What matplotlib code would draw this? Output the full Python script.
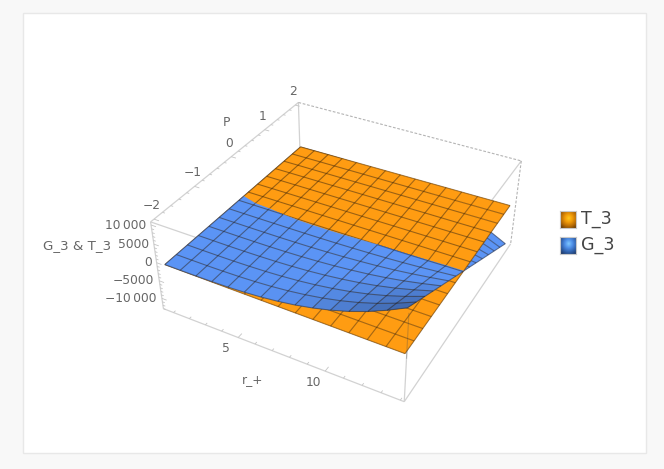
import numpy as np
import matplotlib
matplotlib.use('Agg')
import matplotlib.pyplot as plt
from matplotlib.colors import LinearSegmentedColormap, to_rgb
from matplotlib.patches import Rectangle
from mpl_toolkits.mplot3d import proj3d
from mpl_toolkits.mplot3d.art3d import Poly3DCollection, Line3DCollection

r_vals = [0.63, 1.585, 2.54, 3.495, 4.45, 5.405, 6.36, 7.315, 8.27, 9.225, 10.18, 11.135, 12.09, 13.045, 14.0]
p_vals = [-2, -1.714, -1.429, -1.143, -0.857, -0.571, -0.286, 0, 0.286, 0.571, 0.857, 1.143, 1.429, 1.714, 2]
T_3 = [[-860, -890, -920, -950, -990, -1020, -1050, -1080, -1110, -1140, -1170, -1210, -1240, -1270, -1300],
       [-880, -910, -940, -960, -990, -1020, -1050, -1080, -1110, -1140, -1160, -1190, -1220, -1250, -1280],
       [-900, -930, -950, -980, -1000, -1030, -1050, -1080, -1100, -1130, -1150, -1180, -1200, -1230, -1250],
       [-920, -940, -970, -990, -1010, -1030, -1050, -1080, -1100, -1120, -1140, -1160, -1190, -1210, -1230],
       [-940, -960, -980, -1000, -1020, -1040, -1060, -1070, -1090, -1110, -1130, -1150, -1170, -1190, -1210],
       [-960, -980, -990, -1010, -1030, -1040, -1060, -1070, -1090, -1100, -1120, -1140, -1150, -1170, -1180],
       [-980, -1000, -1010, -1020, -1030, -1050, -1060, -1070, -1080, -1100, -1110, -1120, -1130, -1150, -1160],
       [-1000, -1010, -1020, -1030, -1040, -1050, -1060, -1070, -1080, -1090, -1100, -1110, -1120, -1130, -1140],
       [-1030, -1030, -1040, -1040, -1050, -1060, -1060, -1070, -1080, -1080, -1090, -1090, -1100, -1110, -1110],
       [-1050, -1050, -1050, -1060, -1060, -1060, -1060, -1070, -1070, -1070, -1080, -1080, -1080, -1090, -1090],
       [-1070, -1070, -1070, -1070, -1070, -1070, -1070, -1070, -1070, -1070, -1070, -1070, -1070, -1070, -1070],
       [-1090, -1080, -1080, -1080, -1070, -1070, -1070, -1060, -1060, -1060, -1050, -1050, -1050, -1040, -1040],
       [-1110, -1100, -1100, -1090, -1080, -1080, -1070, -1060, -1060, -1050, -1040, -1040, -1030, -1020, -1020],
       [-1130, -1120, -1110, -1100, -1090, -1080, -1070, -1060, -1050, -1040, -1030, -1020, -1010, -1000, -990],
       [-1150, -1140, -1120, -1110, -1100, -1090, -1070, -1060, -1050, -1030, -1020, -1010, -1000, -980, -970]]
G_3 = [[-830, -860, -860, -820, -715, -500, -160, 340, 1010, 1900, 3000, 4360, 6030, 8020, 10300],
       [-850, -880, -890, -850, -755, -575, -290, 130, 710, 1460, 2410, 3590, 5020, 6730, 8680],
       [-880, -910, -910, -890, -800, -660, -420, -70, 410, 1040, 1830, 2810, 4010, 5440, 7080],
       [-900, -920, -940, -920, -850, -740, -550, -280, 110, 620, 1240, 2030, 3000, 4160, 5470],
       [-925, -945, -954, -945, -904, -822, -686, -472, -187, 192, 656, 1252, 1986, 2869, 3857],
       [-949, -970, -972, -973, -953, -897, -815, -677, -492, -232, 71, 470, 977, 1582, 2255],
       [-974, -995, -1001, -1002, -993, -982, -944, -882, -787, -666, -514, -302, -32, 295, 643],
       [-998, -1009, -1019, -1030, -1043, -1058, -1073, -1087, -1092, -1090, -1099, -1084, -1051, -992, -969],
       [-1032, -1034, -1047, -1058, -1093, -1143, -1202, -1292, -1397, -1514, -1684, -1856, -2060, -2279, -2571],
       [-1057, -1058, -1066, -1097, -1142, -1219, -1331, -1497, -1692, -1938, -2269, -2638, -3069, -3566, -4183],
       [-1081, -1083, -1094, -1125, -1192, -1304, -1470, -1702, -1997, -2372, -2854, -3420, -4088, -4853, -5795],
       [-1105, -1098, -1112, -1153, -1232, -1379, -1599, -1897, -2292, -2796, -3429, -4192, -5097, -6130, -7397],
       [-1130, -1122, -1141, -1182, -1281, -1465, -1728, -2102, -2597, -3220, -4014, -4974, -6106, -7417, -9009],
       [-1154, -1147, -1159, -1210, -1331, -1540, -1857, -2307, -2892, -3644, -4599, -5746, -7115, -8704, -10611],
       [-1178, -1171, -1177, -1238, -1381, -1626, -1986, -2512, -3197, -4068, -5184, -6528, -8134, -9991, -12223]]
r_lim = (0.35, 14.2)
p_lim = (-2.08, 2.11)
z_lim = (-13000, 10800)
r_major = [5, 10]
p_major = [-2, -1, 0, 1, 2]
z_major = [10000, 5000, 0, -5000, -10000]
z_names = ['10\u2009000', '5000', '0', '\u22125000', '\u221210\u2009000']
legend_names = ['T_3', 'G_3']


def shade(color, f):
    return tuple(min(1, c * f) for c in to_rgb(color))


def clip_poly(pts, d):
    # keep the part of a cell where d >= 0
    out = []
    for k in range(len(pts)):
        a, b = np.array(pts[k]), np.array(pts[(k + 1) % len(pts)])
        da, db = d[k], d[(k + 1) % len(pts)]
        if da >= 0:
            out.append(a)
        if (da >= 0) != (db >= 0):
            out.append(a + (b - a) * da / (da - db))
    return out


def layer(Z, D, color, zorder):
    faces, cols, segs = [], [], []
    rr = r_lim[1] - r_lim[0]
    pr = p_lim[1] - p_lim[0]
    zr = z_lim[1] - z_lim[0]
    for j in range(len(p) - 1):
        for i in range(len(r) - 1):
            pts = [(r[i], p[j], Z[j, i]), (r[i + 1], p[j], Z[j, i + 1]),
                   (r[i + 1], p[j + 1], Z[j + 1, i + 1]), (r[i], p[j + 1], Z[j + 1, i])]
            d = [D[j, i], D[j, i + 1], D[j + 1, i + 1], D[j + 1, i]]
            poly = clip_poly(pts, d)
            if len(poly) < 3:
                continue
            sx = (Z[j, i + 1] + Z[j + 1, i + 1] - Z[j, i] - Z[j + 1, i]) / 2 / (r[i + 1] - r[i]) * rr / zr * 104 / 262
            sy = (Z[j + 1, i] + Z[j + 1, i + 1] - Z[j, i] - Z[j, i + 1]) / 2 / (p[j + 1] - p[j]) * pr / zr * 104 / 264
            dot = (-0.6 * sx - 0.3 * sy + 0.74) / np.sqrt(sx ** 2 + sy ** 2 + 1)
            faces.append(poly)
            cols.append(shade(color, 0.48 + 0.52 * np.clip((dot - 0.27) / 0.42, 0, 1)))
    for j in range(len(p)):
        for i in range(len(r)):
            if i + 1 < len(r):
                q = clip_poly([(r[i], p[j], Z[j, i]), (r[i + 1], p[j], Z[j, i + 1])], [D[j, i], D[j, i + 1]])
                if len(q) >= 2:
                    segs.append(q[:2])
            if j + 1 < len(p):
                q = clip_poly([(r[i], p[j], Z[j, i]), (r[i], p[j + 1], Z[j + 1, i])], [D[j, i], D[j + 1, i]])
                if len(q) >= 2:
                    segs.append(q[:2])
    ax.add_collection3d(Poly3DCollection(faces, facecolors=cols, edgecolors=cols, linewidths=0.3, zorder=zorder), autolim=False)
    ax.add_collection3d(Line3DCollection(segs, colors=[(0.1, 0.05, 0, 0.4)], linewidths=0.8, zorder=zorder + 0.1), autolim=False)


def label(x, y, z, text, dx, dy, size=8.8, **kw):
    X, Y, _ = proj3d.proj_transform(x, y, z, ax.get_proj())
    ax.annotate(text, (X, Y), xytext=(dx, dy), textcoords='offset pixels', annotation_clip=False,
                color='#666666', fontsize=size, va='center', zorder=10, **kw)


r = np.array(r_vals)
p = np.array(p_vals)
T = np.array(T_3, float)
G = np.array(G_3, float)

fig = plt.figure(figsize=(6.64, 4.69), dpi=100, facecolor='#f8f8f8')
fig.add_artist(Rectangle((23 / 664, 1 - 453 / 469), 623 / 664, 440 / 469, transform=fig.transFigure,
                         facecolor='white', edgecolor='#e8e8e8', linewidth=1, zorder=-5))
ax = fig.add_axes([6.5 / 664, -5.6 / 469, 1, 1], projection='3d', computed_zorder=False)
ax.patch.set_alpha(0)
ax.set_proj_type('persp', focal_length=0.37)
ax.view_init(elev=35.816, azim=-61.467)
ax.set_box_aspect((262.12, 264.51, 104.23), zoom=0.803)
ax.set_xlim(*r_lim)
ax.set_ylim(*p_lim)
ax.set_zlim(*z_lim)
ax.set_axis_off()

x0, x1 = r_lim
y0, y1 = p_lim
z0, z1 = z_lim
solid = [((x0, y0, z0), (x1, y0, z0)), ((x1, y0, z0), (x1, y1, z0)), ((x0, y0, z0), (x0, y0, z1)),
         ((x0, y0, z1), (x0, y1, z1)), ((x0, y0, z1), (x1, y0, z1)), ((x1, y0, z1), (x1, y1, z1)),
         ((x1, y0, z0), (x1, y0, z1)), ((x0, y1, z1), (x0, y1, z0))]
dashed = [((x0, y1, z1), (x1, y1, z1)), ((x1, y1, z1), (x1, y1, z0))]
ax.add_collection3d(Line3DCollection(solid, colors='#d2d2d2', linewidths=0.9, zorder=1), autolim=False)
ax.add_collection3d(Line3DCollection(dashed, colors='#b4b4b4', linewidths=0.8, linestyles=(0, (2.5, 1.5)), zorder=1), autolim=False)

# ticks, minor ones shorter
ticks = []
for v in np.arange(1, 15):
    ln = 0.3 if v % 5 == 0 else 0.15
    ticks.append(((v, y0, z0), (v, y0 + ln / 3, z0)))
for v in np.arange(-2, 2.01, 0.2):
    ln = 0.3 if abs(v - round(v)) < 0.01 else 0.15
    ticks.append(((x0, v, z1), (x0 + ln, v, z1)))
for v in np.arange(-13000, 10001, 1000):
    ln = 0.3 if v % 5000 == 0 else 0.15
    ticks.append(((x0, y0, v), (x0 + ln, y0, v)))
ax.add_collection3d(Line3DCollection(ticks, colors='#c4c4c4', linewidths=0.6, zorder=1), autolim=False)

diff = G - T
layer(G, -diff, '#5b94f5', 2)
layer(T, np.ones_like(T), '#ff9c12', 3)
ax.add_collection3d(Line3DCollection([((x1, y0, T[0, -1]), (x1, y0, G[0, -1]))], colors=[(0.3, 0.3, 0.3, 0.3)], linewidths=0.8, zorder=3.5), autolim=False)
layer(G, diff, '#5b94f5', 4)

for v in p_major:
    label(x0, v, z1, str(v).replace('-', '\u2212'), -2, 13.5, ha='center')
for v, s in zip(z_major, z_names):
    label(x0, y0, v, s, -5, 0, ha='right')
for v in r_major:
    label(v, y0, z0, str(v), -12, -11, ha='center')
label(x0, 0.25, z1, 'P', -13, 27, ha='center')
label(x0, y0, 3000, 'G_3 & T_3', -78, 6, size=9.6, ha='center')
label(7.27, y0, z0, 'r_+', -24, -27, ha='center')

# legend swatches
orange = LinearSegmentedColormap.from_list('o', ['#ffc81e', '#f09a08', '#b56a04', '#5e3502'])
blue = LinearSegmentedColormap.from_list('b', ['#7fc8ff', '#4f8fe8', '#2f5fa8', '#1c3560'])
yy, xx = np.mgrid[0:1:32j, 0:1:32j]
grad = np.clip(np.hypot(xx - 0.55, yy - 0.42) / 0.75, 0, 1)
for top, cmap, name in [(211, orange, legend_names[0]), (237, blue, legend_names[1])]:
    sw = fig.add_axes([560 / 664, 1 - (top + 17) / 469, 16 / 664, 17 / 469])
    sw.imshow(grad, cmap=cmap, vmin=0, vmax=1, aspect='auto')
    sw.set_xticks([])
    sw.set_yticks([])
    for s in sw.spines.values():
        s.set_color('#c8c8c8')
        s.set_linewidth(0.8)
    fig.text(581 / 664, 1 - (top + 8) / 469, name, fontsize=12.6, color='#444444', va='center', ha='left')

fig.savefig('out.png', dpi=100, facecolor=fig.get_facecolor())
